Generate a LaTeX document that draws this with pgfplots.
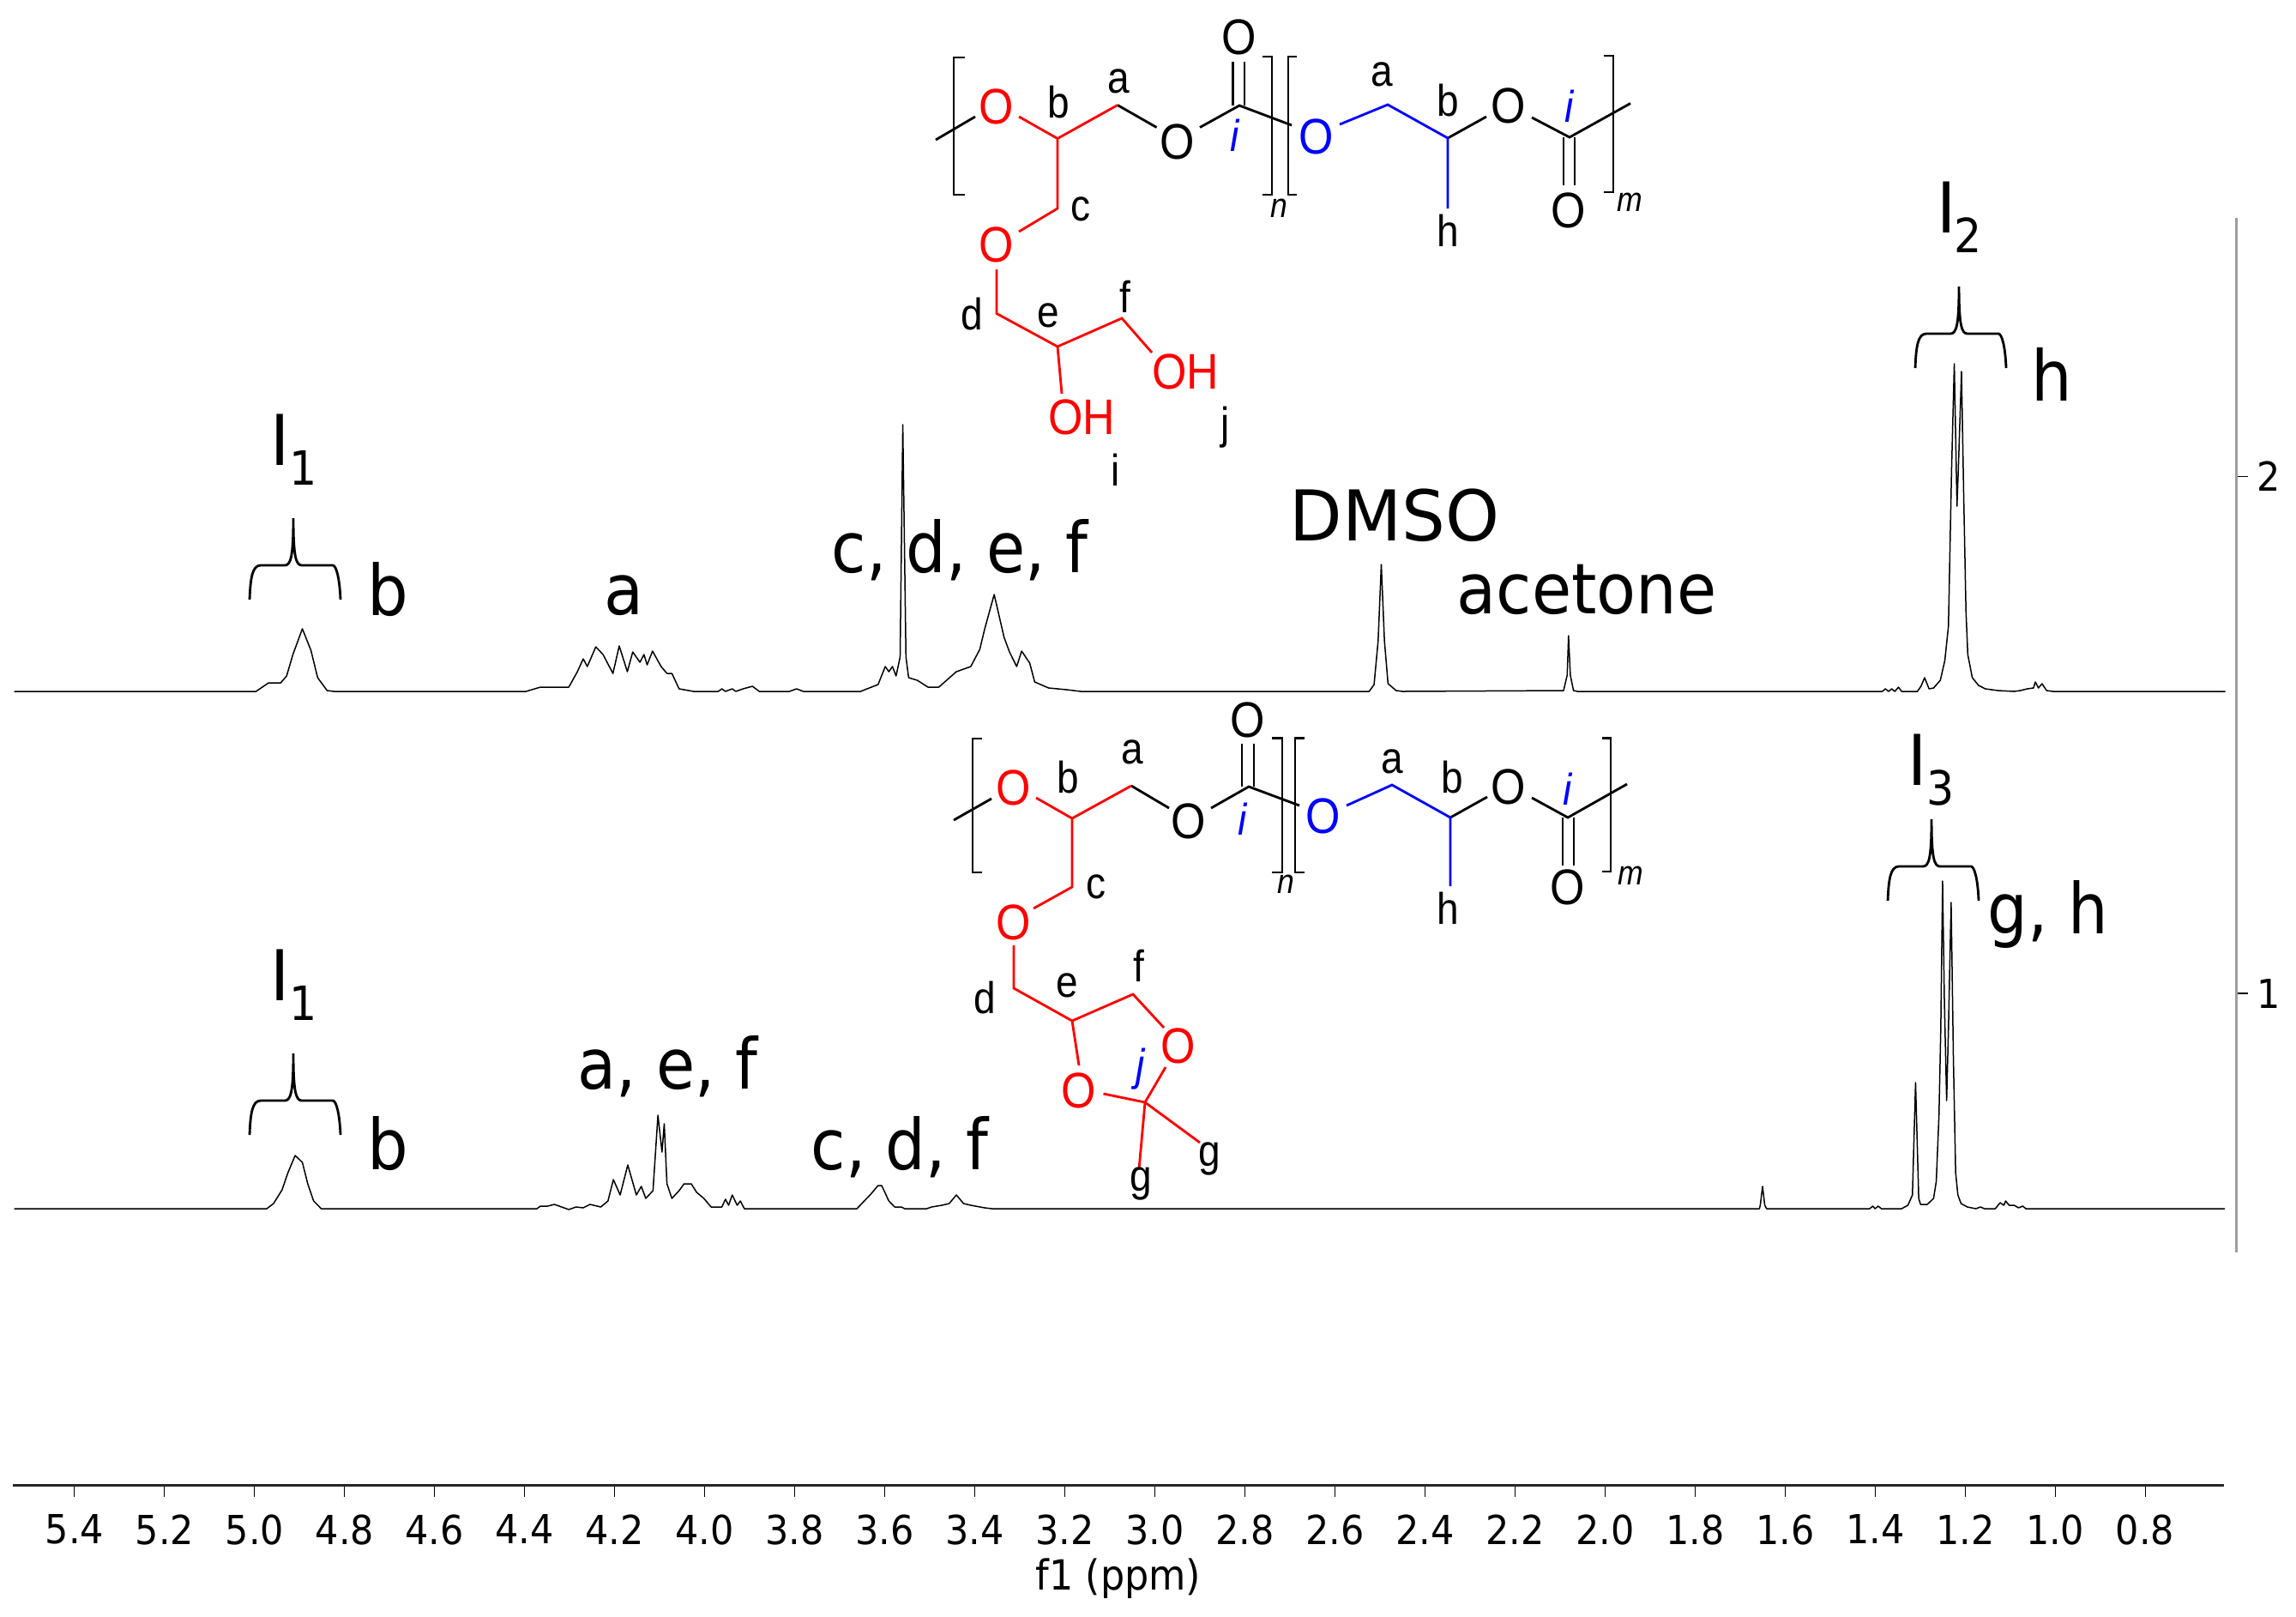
\documentclass[border=0pt]{standalone}
\usepackage{fontspec}
\usepackage{pgfplots}
\usepackage{pgfplotstable}
\pgfplotsset{compat=1.18}
\setmainfont{DejaVu Sans}[FakeStretch=0.92]
\newfontfamily\chem{Liberation Sans}[FakeStretch=0.89]
\newfontfamily\wide{DejaVu Sans}[FakeStretch=0.98]
\newfontfamily\narrow{DejaVu Sans}[FakeStretch=0.9]
\definecolor{axgray}{gray}{0.62}
\pgfplotstableread{
ppm h
5.534 0
4.997 0
4.969 10
4.942 10
4.929 18
4.915 43
4.894 73
4.875 48
4.860 16
4.839 1
4.823 0
4.397 0
4.365 5
4.302 5
4.283 23
4.270 38
4.261 29
4.242 52
4.226 43
4.204 21
4.190 53
4.172 23
4.160 46
4.144 34
4.135 43
4.128 31
4.116 47
4.097 29
4.084 21
4.073 21
4.057 3
4.025 0
3.970 0
3.962 3
3.954 0
3.939 3
3.931 0
3.915 3
3.894 6
3.879 0
3.812 0
3.796 3
3.781 0
3.654 0
3.615 8
3.599 29
3.591 23
3.583 29
3.575 18
3.566 40
3.560 311
3.553 40
3.547 16
3.528 13
3.504 5
3.480 5
3.441 23
3.409 29
3.389 49
3.378 73
3.357 113
3.335 63
3.323 46
3.307 29
3.296 47
3.278 33
3.267 11
3.236 4
3.196 2
3.165 0
2.524 0
2.513 8
2.504 59
2.497 148
2.490 59
2.482 9
2.464 1
2.450 0
2.092 1
2.084 19
2.081 65
2.077 19
2.070 1
2.061 0
1.384 0
1.377 3
1.370 0
1.363 3
1.356 0
1.348 5
1.341 0
1.306 0
1.298 6
1.290 16
1.280 3
1.270 4
1.255 13
1.245 36
1.237 76
1.230 259
1.224 382
1.218 216
1.215 259
1.208 373
1.203 226
1.198 93
1.194 43
1.184 16
1.170 7
1.155 3
1.127 1
1.091 0
1.077 1
1.062 3
1.048 4
1.044 11
1.037 4
1.029 9
1.019 1
1.005 0
0.622 0
}\specupper
\pgfplotstableread{
ppm h
5.534 0
4.973 0
4.958 6
4.939 22
4.926 42
4.910 62
4.894 54
4.882 29
4.869 9
4.852 0
4.373 0
4.365 3
4.349 3
4.334 5
4.318 2
4.302 -1
4.286 2
4.270 1
4.255 5
4.231 2
4.215 9
4.203 34
4.188 16
4.171 51
4.152 16
4.141 26
4.131 12
4.115 21
4.104 109
4.095 66
4.090 99
4.084 29
4.073 12
4.057 21
4.046 29
4.030 29
4.018 19
4.002 12
3.986 2
3.962 2
3.954 11
3.947 4
3.939 16
3.928 4
3.921 9
3.912 0
3.662 0
3.631 17
3.615 27
3.607 27
3.591 9
3.578 2
3.563 2
3.556 0
3.507 0
3.496 2
3.473 4
3.457 6
3.441 16
3.425 6
3.409 4
3.378 1
3.362 0
1.657 0
1.655 4
1.650 26
1.645 4
1.641 0
1.412 0
1.405 3
1.400 0
1.393 3
1.386 0
1.341 0
1.327 4
1.317 16
1.310 147
1.303 12
1.299 5
1.284 5
1.270 12
1.264 32
1.258 109
1.254 209
1.250 382
1.246 242
1.241 126
1.237 209
1.231 357
1.226 176
1.221 42
1.216 16
1.209 6
1.195 2
1.176 0
1.166 2
1.157 0
1.133 0
1.122 7
1.114 4
1.110 9
1.102 4
1.091 4
1.081 1
1.072 3
1.065 0
0.623 0
}\speclower
% big text: left x, baseline y (pixels)
\newcommand\BT[3]{\node[anchor=base west,inner sep=0pt] at (#1,#2) {\fontsize{24.5}{24.5}\selectfont #3};}
\newcommand\SB[3]{\node[anchor=base west,inner sep=0pt] at (#1,#2) {\fontsize{16.5}{16.5}\selectfont #3};}
% chem labels
\newcommand\LB[3]{\node[anchor=base,inner sep=0pt] at (#1,#2) {\chem\fontsize{15.5}{15.5}\selectfont #3};}
\newcommand\IT[4][black]{\node[anchor=base,inner sep=0pt,text=#1] at (#2,#3) {\chem\itshape\fontsize{#4}{#4}\selectfont i};}
\newcommand\AT[4]{\node[inner sep=0pt,text=#1] at (#2,#3) {\chem\fontsize{17.5}{17.5}\selectfont #4};}
\newcommand\BR[2]{\begin{scope}[shift={(#1,#2)}]
\draw[line width=0.85pt,line cap=butt] (-51,95) .. controls (-50,70) and (-48,55) .. (-38,55) -- (-10,55) .. controls (-3,55) and (0,45) .. (0,0) .. controls (0,45) and (3,55) .. (10,55) -- (46,55) .. controls (50,55) and (54,70) .. (55,95);
\end{scope}}
\begin{document}
\begin{tikzpicture}
\path[use as bounding box] (0,0) rectangle (803.1pt,-565.2pt);
\begin{axis}[
  at={(4.5pt,-519.3pt)},anchor=south west,
  scale only axis,width=773.4pt,height=300pt,
  x dir=reverse,xmin=0.6249,xmax=5.5372,ymin=0,ymax=1000,
  axis x line=bottom,axis y line=none,
  x axis line style={-,line width=0.9pt,color=black!85},
  xtick={0.8,1.0,1.2,1.4,1.6,1.8,2.0,2.2,2.4,2.6,2.8,3.0,3.2,3.4,3.6,3.8,4.0,4.2,4.4,4.6,4.8,5.0,5.2,5.4},
  tick align=outside,major tick length=4.2pt,
  x tick style={black,line width=0.3pt},
  minor tick num=0,
  xticklabel style={/pgf/number format/assume math mode=true,/pgf/number format/fixed,/pgf/number format/fixed zerofill,/pgf/number format/precision=1,font=\fontsize{14}{14}\selectfont,inner sep=0pt,yshift=-6pt},
  xlabel={f1 (ppm)},
  xlabel style={font=\fontsize{14.5}{14.5}\selectfont,inner sep=0pt,yshift=-4.5pt},
  clip=false
]
\addplot[black,line width=0.45pt,line join=round] table[x=ppm,y expr=\thisrow{h}+925] {\specupper};
\addplot[black,line width=0.45pt,line join=round] table[x=ppm,y expr=\thisrow{h}+322] {\speclower};
\end{axis}
\begin{axis}[
  at={(781.8pt,-437.85pt)},anchor=south west,
  scale only axis,width=0.3pt,height=361.65pt,
  xmin=0,xmax=1,ymin=0.5,ymax=2.5,
  axis x line=none,axis y line=right,
  y axis line style={-,line width=0.9pt,color=axgray},
  xtick=\empty,ytick={1,2},
  tick align=outside,major tick length=4.2pt,
  y tick style={black,line width=0.4pt},
  yticklabel style={/pgf/number format/assume math mode=true,font=\fontsize{14}{14}\selectfont,inner sep=0pt,xshift=3pt}
]
\end{axis}
\begin{scope}[x=0.3pt,y=-0.3pt]
% upper labels
\BT{315}{542}{I}\SB{337}{565}{1}
\BR{342}{604}
\BT{428}{717}{b}
\BT{704}{716}{a}
\BT{969}{667}{\narrow c, d, e, f}
\BT{1503}{630}{\wide DMSO}
\BT{1698}{715}{acetone}
\BT{2258}{271}{I}\SB{2278}{294}{2}
\BR{2284}{334}
\BT{2368}{467}{h}
% lower labels
\BT{315}{1166}{I}\SB{337}{1189}{1}
\BR{342}{1228}
\BT{428}{1363}{b}
\BT{673}{1269}{\narrow a, e, f}
\BT{945}{1363}{\narrow c, d, f}
\BT{2224}{915}{I}\SB{2246}{938}{3}
\BR{2252}{955}
\BT{2317}{1088}{\narrow g, h}
% upper structure
\begin{scope}[line width=0.85pt,line join=miter]
\draw (1125,67)--(1112,67)--(1112,227)--(1125,227);
\draw (1472,66)--(1483,66)--(1483,227)--(1472,227);
\draw (1512,66)--(1502,66)--(1502,227)--(1512,227);
\draw (1870,65)--(1881,65)--(1881,224)--(1870,224);
\draw (1091,163)--(1137,136);
\draw (1303,122.5)--(1348.5,148.5);
\draw (1399,148.5)--(1445,123)--(1506,146);
\draw (1437.5,123)--(1437.5,72) (1451,123)--(1451,72);
\draw (1688,161)--(1733,136);
\draw (1786,137)--(1830,160)--(1901,120.5);
\draw (1823,160)--(1823,216) (1836,160)--(1836,216);
\draw[red] (1188,136)--(1233,161.5)--(1303,122.5);
\draw[red] (1233,161.5)--(1233,243)--(1188,270);
\draw[red] (1162,314)--(1162,365.5)--(1233,404)--(1308,371)--(1343,411);
\draw[red] (1233,404)--(1238,459);
\draw[blue] (1562,145)--(1618,122)--(1688,161)--(1688,243);
\end{scope}
\AT{red}{1162}{124}{O}\AT{black}{1373}{165}{O}\AT{black}{1445}{43}{O}
\AT{blue}{1535}{159}{O}\AT{black}{1759}{123}{O}\AT{black}{1829}{245}{O}
\AT{red}{1162}{285}{O}\AT{red}{1382}{433}{OH}\AT{red}{1261}{486}{OH}
\LB{1304}{108}{a}\LB{1234}{137}{b}\LB{1260}{257}{c}\LB{1133}{384}{d}\LB{1222}{381}{e}\LB{1312}{364}{f}
\LB{1688}{287}{h}\LB{1611}{100}{a}\LB{1688}{135}{b}\LB{1429}{511}{j}\LB{1301}{566}{i}
\IT[blue]{1440}{176}{15.5}\IT[blue]{1830}{142}{15.5}
\node[anchor=base,inner sep=0pt] at (1491,253) {\chem\itshape\fontsize{12}{12}\selectfont n};
\node[anchor=base,inner sep=0pt] at (1900,246) {\chem\itshape\fontsize{12}{12}\selectfont m};
% lower structure
\begin{scope}[line width=0.85pt,line join=miter]
\draw (1145,861)--(1134,861)--(1134,1017)--(1145,1017);
\draw (1483,860.5)--(1495,860.5)--(1495,1017)--(1483,1017);
\draw (1521,860.5)--(1510,860.5)--(1510,1017)--(1521,1017);
\draw (1868,860.5)--(1878,860.5)--(1878,1016)--(1868,1016);
\draw (1112,956)--(1156,931);
\draw (1319,916)--(1363,942);
\draw (1412,942)--(1456,917)--(1515,939);
\draw (1448,917)--(1448,867) (1462,917)--(1462,867);
\draw (1691,953)--(1734,929);
\draw (1786,930)--(1828,953)--(1897,914);
\draw (1822,953)--(1822,1009) (1835,953)--(1835,1009);
\draw[red] (1208,930)--(1250,954)--(1319,916);
\draw[red] (1250,954)--(1250,1034)--(1205,1059);
\draw[red] (1182,1102)--(1182,1152)--(1250,1190)--(1321,1159)--(1357,1198);
\draw[red] (1250,1190)--(1258,1242);
\draw[red] (1286.5,1275)--(1335,1285)--(1359,1244);
\draw[red] (1335,1285)--(1328,1363);
\draw[red] (1335,1285)--(1399,1332);
\draw[blue] (1570,939)--(1623,915)--(1691,953)--(1691,1033);
\end{scope}
\AT{red}{1182}{918}{O}\AT{black}{1386}{957}{O}\AT{black}{1455}{839}{O}
\AT{blue}{1542.5}{951}{O}\AT{black}{1759}{917}{O}\AT{black}{1828}{1034}{O}
\AT{red}{1182}{1075}{O}\AT{red}{1374}{1219}{O}\AT{red}{1258}{1271}{O}
\LB{1320}{890}{a}\LB{1245}{924}{b}\LB{1278}{1047}{c}\LB{1148}{1181}{d}\LB{1244}{1162}{e}\LB{1328}{1144}{f}
\LB{1623}{901}{a}\LB{1693}{924}{b}\LB{1688}{1077}{h}\LB{1330}{1388}{g}\LB{1410}{1359}{g}
\IT[blue]{1449}{973}{15.5}\IT[blue]{1828}{938}{15.5}
\node[anchor=base,inner sep=0pt,text=blue] at (1330,1259) {\chem\itshape\fontsize{15.5}{15.5}\selectfont j};
\node[anchor=base,inner sep=0pt] at (1499,1041) {\chem\itshape\fontsize{12}{12}\selectfont n};
\node[anchor=base,inner sep=0pt] at (1901,1031) {\chem\itshape\fontsize{12}{12}\selectfont m};
\end{scope}
\end{tikzpicture}
\end{document}
